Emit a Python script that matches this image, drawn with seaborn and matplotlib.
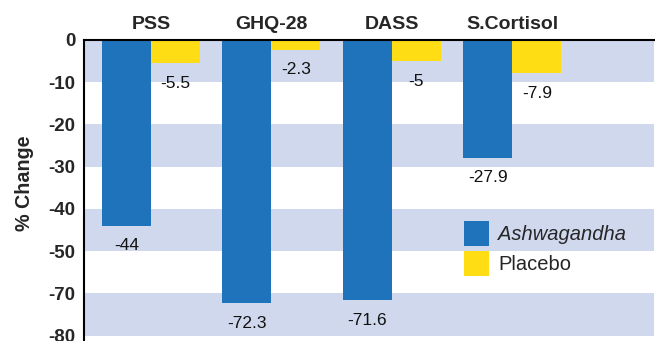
import numpy as np
import pandas as pd
import matplotlib
matplotlib.use("Agg")
import matplotlib.pyplot as plt
from matplotlib.patches import Patch
import seaborn as sns

# Percent change from baseline for each outcome measure
measures = ["PSS", "GHQ-28", "DASS", "S.Cortisol"]
ashwagandha = [-44, -72.3, -71.6, -27.9]
placebo = [-5.5, -2.3, -5, -7.9]
groups = ["Ashwagandha", "Placebo"]
y_ticks = [0, -10, -20, -30, -40, -50, -70, -80]

BLUE = "#1F73BB"
YELLOW = "#FFDD15"
BAND = "#D0D8EE"

sns.set_style("white")
plt.rcParams["font.family"] = ["Liberation Sans", "DejaVu Sans"]

df = pd.DataFrame({
    "measure": measures * 2,
    "change": ashwagandha + placebo,
    "group": [groups[0]] * len(measures) + [groups[1]] * len(measures),
})

W, H = 655, 341
fig = plt.figure(figsize=(W / 100, H / 100), dpi=100)
ax = fig.add_axes([84.5 / W, 0, (654 - 84.5) / W, (H - 40) / H])

sns.barplot(data=df, x="measure", y="change", hue="group",
            palette=[BLUE, YELLOW], saturation=1, width=0.814,
            linewidth=0, legend=False, ax=ax, zorder=2)


# Axis break: the -50 to -70 stretch is drawn at half scale
def fwd(y):
    y = np.asarray(y, dtype=float)
    return np.where(y >= -50, y, np.where(y >= -70, -50 + (y + 50) / 2, y + 10))


def inv(t):
    t = np.asarray(t, dtype=float)
    return np.where(t >= -50, t, np.where(t >= -60, -50 + (t + 50) * 2, t - 10))


ax.set_yscale("function", functions=(fwd, inv))
ax.set_ylim(-81.3, 0)
ax.set_xlim(-0.553, 4.177)

# Alternating horizontal bands between tick marks
for top, bottom in zip(y_ticks[0::2], y_ticks[1::2]):
    ax.axhspan(bottom, top, color=BAND, lw=0, zorder=0)

ax.set_yticks(y_ticks, labels=[str(t) for t in y_ticks],
              fontweight="bold", fontsize=13.5)
ax.tick_params(axis="y", direction="out", length=5, width=1.5,
               color="black", pad=1.5)
ax.minorticks_off()

ax.xaxis.set_ticks_position("top")
ax.set_xticks(range(len(measures)), labels=measures,
              fontweight="bold", fontsize=14)
ax.tick_params(axis="x", length=0, pad=5)
ax.set_xlabel("")
ax.set_ylabel("")

for side in ("right", "bottom"):
    ax.spines[side].set_visible(False)
for side in ("left", "top"):
    ax.spines[side].set_linewidth(1.5)
    ax.spines[side].set_color("black")

for cont in ax.containers:
    ax.bar_label(cont, fmt="{:g}", padding=9, fontsize=12.5, color="#111111")

fig.text(24 / W, 1 - 183 / H, "% Change", rotation=90, ha="center",
         va="center", fontweight="bold", fontsize=14.2)

handles = [Patch(facecolor=BLUE, edgecolor="none"),
           Patch(facecolor=YELLOW, edgecolor="none")]
leg = ax.legend(handles, groups, loc="upper left",
                bbox_to_anchor=(464 / W, 1 - 221 / H),
                bbox_transform=fig.transFigure, frameon=False,
                fontsize=14.5, borderpad=0, borderaxespad=0,
                handlelength=1.24, handleheight=1.5,
                handletextpad=0.45, labelspacing=0.28)
leg.get_texts()[0].set_fontstyle("italic")

fig.savefig("out.png", dpi=100)
